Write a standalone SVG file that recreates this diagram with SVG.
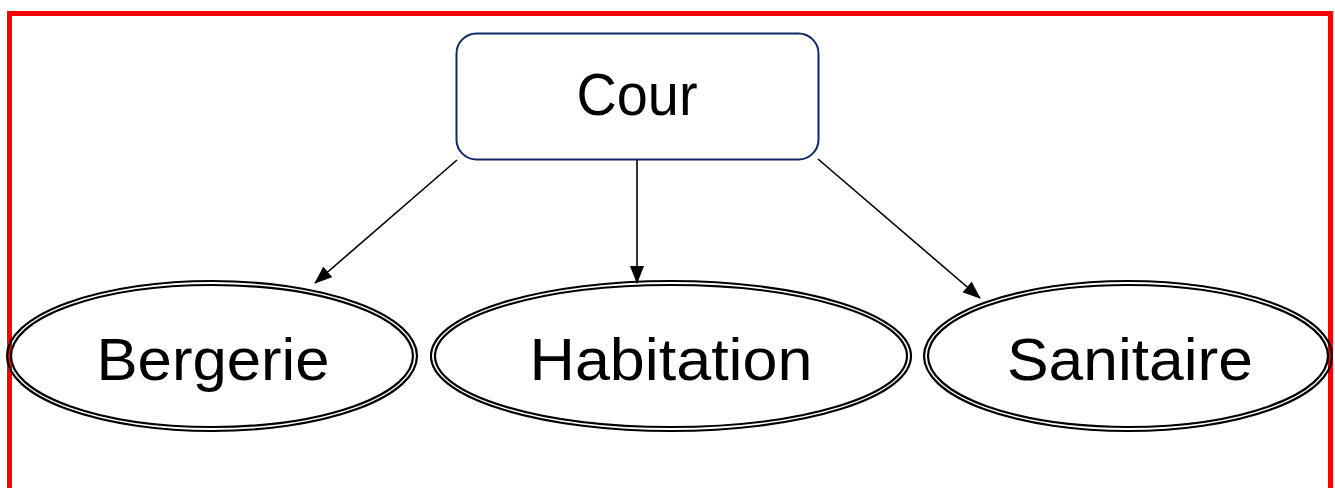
<svg xmlns="http://www.w3.org/2000/svg" width="1335" height="488" viewBox="0 0 1335 488">
<style>
.lbl{font-family:"Comic Sans MS","Liberation Sans","Open Sans",sans-serif;fill:#000;text-anchor:middle}
.ell{fill:none;stroke:#000;stroke-width:2.2}
.conn{stroke:#000;stroke-width:1.6;fill:none;marker-end:url(#arr)}
</style>
<defs>
<marker id="arr" markerWidth="18" markerHeight="14" refX="17" refY="7" orient="auto" markerUnits="userSpaceOnUse">
<path d="M0,0 L18,7 L0,14 Z" fill="#000"/>
</marker>
</defs>
<rect x="0" y="0" width="1335" height="488" fill="#fff"/>
<rect x="9.5" y="13.5" width="1321" height="490" fill="none" stroke="#ff0000" stroke-width="5"/>
<g id="connectors">
<line class="conn" x1="457" y1="160" x2="315" y2="283"/>
<line class="conn" x1="637" y1="160" x2="637" y2="283"/>
<line class="conn" x1="818" y1="159" x2="980" y2="298"/>
</g>
<g id="node-cour">
<rect x="456.5" y="33.5" width="362" height="126" rx="20" ry="20" fill="#fff" stroke="#0e2a66" stroke-width="2"/>
<text class="lbl" x="637" y="115" font-size="60" textLength="121" lengthAdjust="spacingAndGlyphs">Cour</text>
</g>
<g id="node-bergerie">
<ellipse class="ell" cx="212" cy="356" rx="205" ry="75"/>
<ellipse class="ell" cx="212" cy="356" rx="201" ry="71"/>
<text class="lbl" x="213" y="380" font-size="60" textLength="233" lengthAdjust="spacingAndGlyphs">Bergerie</text>
</g>
<g id="node-habitation">
<ellipse class="ell" cx="671" cy="356" rx="240" ry="75"/>
<ellipse class="ell" cx="671" cy="356" rx="236" ry="71"/>
<text class="lbl" x="671" y="380" font-size="60" textLength="283" lengthAdjust="spacingAndGlyphs">Habitation</text>
</g>
<g id="node-sanitaire">
<ellipse class="ell" cx="1128" cy="356" rx="204" ry="75"/>
<ellipse class="ell" cx="1128" cy="356" rx="200" ry="71"/>
<text class="lbl" x="1130" y="380" font-size="60" textLength="246" lengthAdjust="spacingAndGlyphs">Sanitaire</text>
</g>
</svg>
